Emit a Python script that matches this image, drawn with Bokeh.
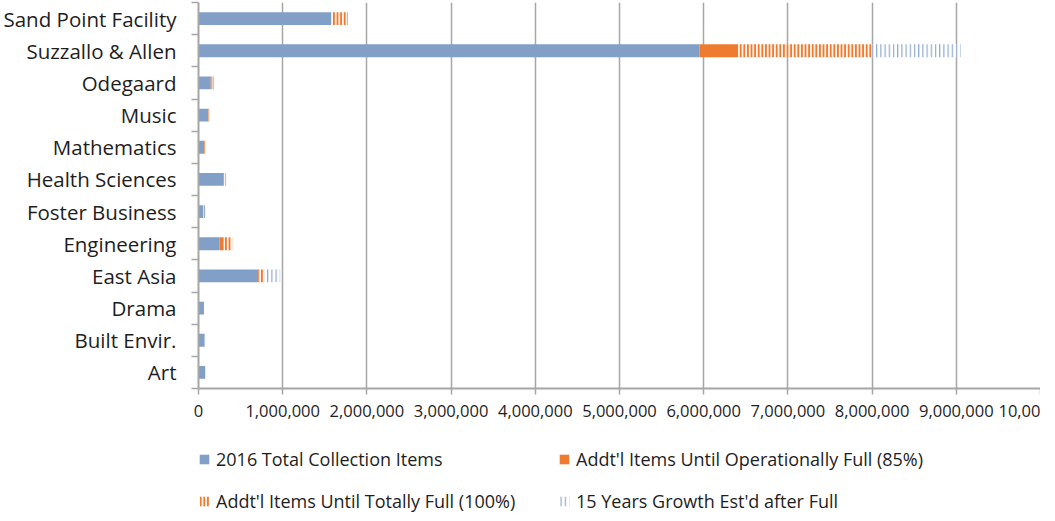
from bokeh.plotting import figure
from bokeh.models import (FixedTicker, Legend, LegendItem, Range1d, ColumnDataSource)
from bokeh.layouts import column
from bokeh.embed import file_html
from bokeh.resources import INLINE

categories = ["Sand Point Facility", "Suzzallo & Allen", "Odegaard", "Music", "Mathematics",
              "Health Sciences", "Foster Business", "Engineering", "East Asia", "Drama",
              "Built Envir.", "Art"]
total_2016 = [1575000, 5950000, 146000, 115000, 65000, 295000, 60000, 250000, 710000, 65000, 70000, 80000]
until_oper = [0, 460000, 10000, 5000, 5000, 10000, 0, 50000, 15000, 0, 0, 0]
until_full = [200000, 1590000, 15000, 10000, 10000, 15000, 0, 100000, 55000, 0, 0, 0]
growth_15yr = [0, 1050000, 25000, 15000, 5000, 10000, 20000, 0, 190000, 0, 10000, 0]
series_names = ["2016 Total Collection Items",
                "Addt'l Items Until Operationally Full (85%)",
                "Addt'l Items Until Totally Full (100%)",
                "15 Years Growth Est'd after Full"]
x_ticks = [0, 1000000, 2000000, 3000000, 4000000, 5000000, 6000000, 7000000, 8000000, 9000000, 10000000]
x_tick_labels = ["0", "1,000,000", "2,000,000", "3,000,000", "4,000,000", "5,000,000",
                 "6,000,000", "7,000,000", "8,000,000", "9,000,000", "10,00"]

BLUE = "#829FC8"
ORANGE = "#EF7B30"
LBLUE = "#8EA8CF"
GRID = "#A6A6A6"
TXT = "#1E1E1E"
FONT = "Open Sans"

STYLE = dict(fill_color=[BLUE, ORANGE, "#FFF4EC", "white"],
             line_color=None,
             hatch_pattern=[" ", " ", "|", "|"],
             hatch_color=[BLUE, ORANGE, ORANGE, LBLUE],
             hatch_scale=[4, 4, 3.6, 4.2],
             hatch_weight=[1, 1, 2.0, 1.2])

n = len(categories)
ypos = [n - 1 - i + 0.5 for i in range(n)]
src = ColumnDataSource(dict(y=ypos, cat=categories, a=total_2016, b=until_oper,
                            c=until_full, d=growth_15yr))

p = figure(width=1039, frame_width=842, frame_height=386, output_backend="svg",
           toolbar_location=None,
           x_range=Range1d(0, 10000000), y_range=Range1d(0, n),
           min_border_left=197, min_border_right=0, min_border_top=2,
           min_border_bottom=45)
p.outline_line_color = None
p.background_fill_color = "white"

p.hbar_stack(["a", "b", "c", "d"], y="y", height=0.40, source=src, **STYLE)

# x axis
xa = p.xaxis[0]
xa.ticker = FixedTicker(ticks=x_ticks)
xa.major_label_overrides = {t: lab for t, lab in zip(x_ticks, x_tick_labels)}
xa.axis_line_color = GRID
xa.axis_line_width = 2
xa.major_tick_line_color = GRID
xa.major_tick_line_width = 1.5
xa.major_tick_out = 6
xa.major_tick_in = 0
xa.minor_tick_line_color = None
xa.major_label_text_font = FONT
xa.major_label_text_font_size = "16.5px"
xa.major_label_text_color = TXT
xa.major_label_standoff = 10

# y axis
ya = p.yaxis[0]
ya.ticker = FixedTicker(ticks=ypos, minor_ticks=list(range(0, n + 1)))
ya.major_label_overrides = {y: c for y, c in zip(ypos, categories)}
ya.axis_line_color = GRID
ya.axis_line_width = 2
ya.major_tick_line_color = None
ya.minor_tick_line_color = GRID
ya.minor_tick_line_width = 1.5
ya.minor_tick_out = 7
ya.minor_tick_in = 0
ya.major_label_text_font = FONT
ya.major_label_text_font_size = "20.5px"
ya.major_label_text_color = TXT
ya.major_label_standoff = 15

p.xgrid.ticker = FixedTicker(ticks=x_ticks)
p.xgrid.grid_line_color = GRID
p.xgrid.grid_line_width = 1.5
p.ygrid.grid_line_color = None

# legend in its own strip below the chart (its bars sit outside the visible range)
leg_fig = figure(width=1039, height=80, output_backend="svg", toolbar_location=None,
                 x_range=Range1d(0, 10000000), y_range=Range1d(100, 101),
                 min_border=0, x_axis_type=None, y_axis_type=None)
leg_fig.outline_line_color = None
leg_fig.xgrid.visible = False
leg_fig.ygrid.visible = False
leg_renderers = leg_fig.hbar_stack(["a", "b", "c", "d"], y="y", height=0.4,
                                   source=src, **STYLE)

items = [LegendItem(label=nm, renderers=[r]) for nm, r in zip(series_names, leg_renderers)]
items = [items[0], items[2], items[1], items[3]]
legend = Legend(items=items, ncols=2,
                glyph_width=12, glyph_height=12, label_width=324,
                label_standoff=6, spacing=18, padding=0, margin=0,
                label_height=20, border_line_color=None,
                background_fill_alpha=0,
                label_text_font=FONT, label_text_font_size="18px",
                label_text_color=TXT, location=(0, 0))
leg_fig.add_layout(legend, "center")

layout = column(p, leg_fig, spacing=0)
open("out.html", "w").write(file_html(layout, INLINE))
